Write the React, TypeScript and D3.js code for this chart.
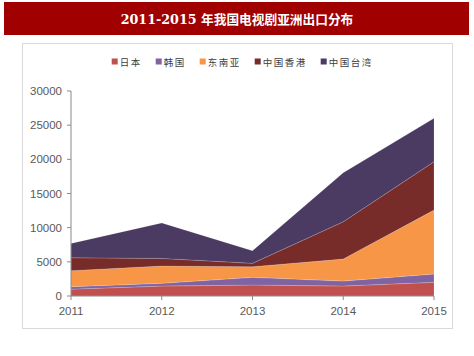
import React from "react";
import * as d3 from "d3";

const years = [2011, 2012, 2013, 2014, 2015];
const seriesNames = ["日本", "韩国", "东南亚", "中国香港", "中国台湾"];
const japan = [1000, 1450, 1600, 1450, 2000];
const korea = [360, 400, 1130, 740, 1220];
const seAsia = [2340, 2540, 1550, 3220, 9350];
const hongKong = [1900, 1110, 500, 5450, 7070];
const taiwan = [2100, 5200, 1840, 7170, 6360];
const yTicks = [0, 5000, 10000, 15000, 20000, 25000, 30000];
const colors = ["#C0504D", "#8064A2", "#F79646", "#772C2A", "#4B3A62"];

export default function App() {
  const W = 474, H = 356;
  const x0 = 71, x1 = 434, yBottom = 296, yTop = 91;
  const x = d3.scalePoint<number>().domain(years).range([x0, x1]);
  const y = d3.scaleLinear().domain([0, 30000]).range([yBottom, yTop]);
  const valueArrays = [japan, korea, seAsia, hongKong, taiwan];
  const table = years.map((yr, i) => {
    const row: any = { year: yr };
    seriesNames.forEach((n, k) => (row[n] = valueArrays[k][i]));
    return row;
  });
  const stack = d3.stack().keys(seriesNames)(table as any);
  const area = d3
    .area<any>()
    .x((d) => x(d.data.year) as number)
    .y0((d) => y(d[0]))
    .y1((d) => y(d[1]));

  // legend layout
  const charW = 11;
  let lx = 111.7;
  const legendItems = seriesNames.map((n, i) => {
    const item = { name: n, x: lx, color: colors[i] };
    lx += 7 + n.length * charW + 15;
    return item;
  });

  const axisColor = "#898989";
  const labelColor = "#595959";

  return (
    <svg width={W} height={H} style={{ position: "absolute", left: 0, top: 0 }}>
      <rect x={0} y={0} width={W} height={H} fill="#fff" />
      <rect x={4} y={2} width={465} height={33} fill="#A00000" />
      <text
        x={237}
        y={23.5}
        textAnchor="middle"
        fill="#fff"
        fontSize={12.7}
        fontWeight="bold"
        fontFamily="'DejaVu Serif', 'Noto Sans CJK SC', serif"
      >
        2011-2015 年我国电视剧亚洲出口分布
      </text>
      <rect x={22.5} y={43.5} width={430} height={285} fill="#fff" stroke="#D9D9D9" strokeWidth={1} />
      {legendItems.map((it) => (
        <g key={it.name}>
          <rect x={it.x} y={58.5} width={6} height={6} fill={it.color} />
          <text
            x={it.x + 8}
            y={65.5}
            fontSize={9.5}
            letterSpacing={1.5}
            fill="#404040"
            fontFamily="'Noto Sans CJK SC', sans-serif"
          >
            {it.name}
          </text>
        </g>
      ))}
      {stack.map((s, i) => (
        <path key={s.key} d={area(s as any) as string} fill={colors[i]} stroke="rgba(255,255,255,0.25)" strokeWidth={0.6} />
      ))}
      <line x1={x0} x2={x0} y1={yTop} y2={yBottom} stroke={axisColor} strokeWidth={1} />
      <line x1={x0} x2={x1} y1={yBottom} y2={yBottom} stroke={axisColor} strokeWidth={1} />
      {yTicks.map((t) => (
        <g key={t}>
          <line x1={x0 - 4} x2={x0} y1={y(t)} y2={y(t)} stroke={axisColor} />
          <text
            x={x0 - 9}
            y={y(t) + 4}
            textAnchor="end"
            fontSize={11.5}
            fill={labelColor}
            fontFamily="'Liberation Sans', Arial, sans-serif"
          >
            {t}
          </text>
        </g>
      ))}
      {years.map((yr) => (
        <g key={yr}>
          <line x1={x(yr)} x2={x(yr)} y1={yBottom} y2={yBottom + 4} stroke={axisColor} />
          <text
            x={x(yr)}
            y={yBottom + 19}
            textAnchor="middle"
            fontSize={11.5}
            fill={labelColor}
            fontFamily="'Liberation Sans', Arial, sans-serif"
          >
            {yr}
          </text>
        </g>
      ))}
    </svg>
  );
}
